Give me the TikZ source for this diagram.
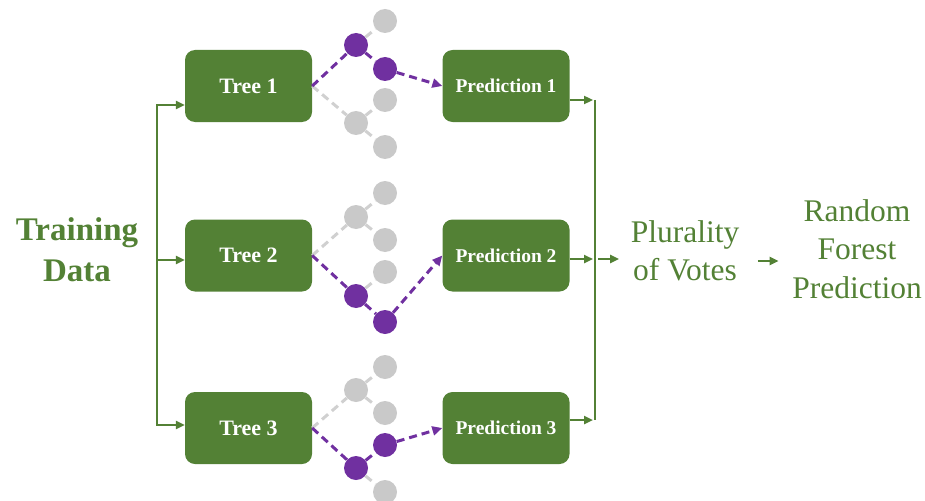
\documentclass[tikz,border=0pt]{standalone}
\usepackage{fontspec}
\setmainfont{Liberation Serif}
\usetikzlibrary{arrows.meta}
\definecolor{ForestGreen}{HTML}{538135}
\definecolor{PathPurple}{HTML}{7030A0}
\definecolor{LeafGray}{HTML}{C9C9C9}
\definecolor{EdgeGray}{HTML}{D0D0D0}

\begin{document}
\begin{tikzpicture}[x=1pt,y=-1pt,
    treebox/.style={fill=ForestGreen,rounded corners=10pt,minimum width=127pt,minimum height=72pt,
      text=white,font=\bfseries\fontsize{22}{26}\selectfont},
    predbox/.style={treebox,font=\bfseries\fontsize{19.5}{24}\selectfont},
    dot/.style={circle,inner sep=0pt,minimum size=24pt,fill=LeafGray},
    hotdot/.style={dot,fill=PathPurple},
    coldedge/.style={EdgeGray,line width=3pt,dash pattern=on 8pt off 5pt},
    hotedge/.style={PathPurple,line width=3pt,dash pattern=on 8pt off 5pt},
    hotarrow/.style={hotedge,-{Triangle[length=10pt,width=9pt]}},
    flow/.style={ForestGreen,line width=2.5pt,-{Triangle[length=9pt,width=8pt]}},
    outtext/.style={text=ForestGreen,align=center,font=\fontsize{31.5}{38.5}\selectfont}]
  \useasboundingbox (0,0) rectangle (925,500);

  % boxes
  \node[treebox] (t1) at (248.5,86) {Tree 1};
  \node[treebox] (t2) at (248.5,255.5) {Tree 2};
  \node[treebox] (t3) at (248.5,428) {Tree 3};
  \node[predbox] (p1) at (506,86) {Prediction 1};
  \node[predbox] (p2) at (506,255.5) {Prediction 2};
  \node[predbox] (p3) at (506,428) {Prediction 3};

  % tree 1
  \node[hotdot] (a1) at (356,45) {};
  \node[hotdot] (a2) at (385,69) {};
  \node[dot] (a3) at (385,21) {};
  \node[dot] (a4) at (356,123) {};
  \node[dot] (a5) at (385,100) {};
  \node[dot] (a6) at (385,147) {};
  \draw[coldedge] (a1) -- (a3);
  \draw[coldedge] (t1.east) -- (a4);
  \draw[coldedge] (a4) -- (a5);
  \draw[coldedge] (a4) -- (a6);
  \draw[hotedge] (t1.east) -- (a1);
  \draw[hotedge] (a1) -- (a2);
  \draw[hotarrow] (a2) -- (p1.west);

  % tree 2
  \node[dot] (b1) at (356,217) {};
  \node[dot] (b2) at (385,193) {};
  \node[dot] (b3) at (385,240) {};
  \node[dot] (b4) at (385,272) {};
  \node[hotdot] (b5) at (356,296) {};
  \node[hotdot] (b6) at (385,322) {};
  \draw[coldedge] (t2.east) -- (b1);
  \draw[coldedge] (b1) -- (b2);
  \draw[coldedge] (b1) -- (b3);
  \draw[coldedge] (b5) -- (b4);
  \draw[hotedge] (t2.east) -- (b5);
  \draw[hotedge] (b5) -- (b6);
  \draw[hotarrow] (b6) -- (p2.west);

  % tree 3
  \node[dot] (c1) at (356,390) {};
  \node[dot] (c2) at (385,367) {};
  \node[dot] (c3) at (385,413) {};
  \node[hotdot] (c4) at (356,468) {};
  \node[hotdot] (c5) at (385,445) {};
  \node[dot] (c6) at (385,492) {};
  \draw[coldedge] (t3.east) -- (c1);
  \draw[coldedge] (c1) -- (c2);
  \draw[coldedge] (c1) -- (c3);
  \draw[coldedge] (c4) -- (c6);
  \draw[hotedge] (t3.east) -- (c4);
  \draw[hotedge] (c4) -- (c5);
  \draw[hotarrow] (c5) -- (p3.west);

  % input side
  \node[outtext,font=\bfseries\fontsize{33}{41}\selectfont] (train) at (77,250) {Training\\Data};
  \coordinate (l1) at (157,105);
  \coordinate (l2) at (157,260);
  \coordinate (l3) at (157,425);
  \draw[flow] (l2) -- (l1) -- (l1 -| t1.west);
  \draw[flow] (l2) -- (l3) -- (l3 -| t3.west);
  \draw[flow] (l2) -- (l2 -| t2.west);

  % output side
  \coordinate (r1) at (595,100);
  \coordinate (r2) at (595,259);
  \coordinate (r3) at (595,420);
  \draw[ForestGreen,line width=2.5pt] (r1) -- (r3);
  \draw[flow,shorten >=2pt] (p1.east |- r1) -- (r1);
  \draw[flow,shorten >=2pt] (p2.east |- r2) -- (r2);
  \draw[flow,shorten >=2pt] (p3.east |- r3) -- (r3);
  \node[outtext] (vote) at (685,251) {Plurality\\of Votes};
  \node[outtext] (forest) at (857,249) {Random\\Forest\\Prediction};
  \coordinate (m) at (768,261);
  \draw[flow,shorten <=3pt,shorten >=8pt] (r2) -- (r2 -| vote.west);
  \draw[flow,shorten <=15pt,shorten >=10pt] (vote.east |- m) -- (forest.west |- m);
\end{tikzpicture}
\end{document}
